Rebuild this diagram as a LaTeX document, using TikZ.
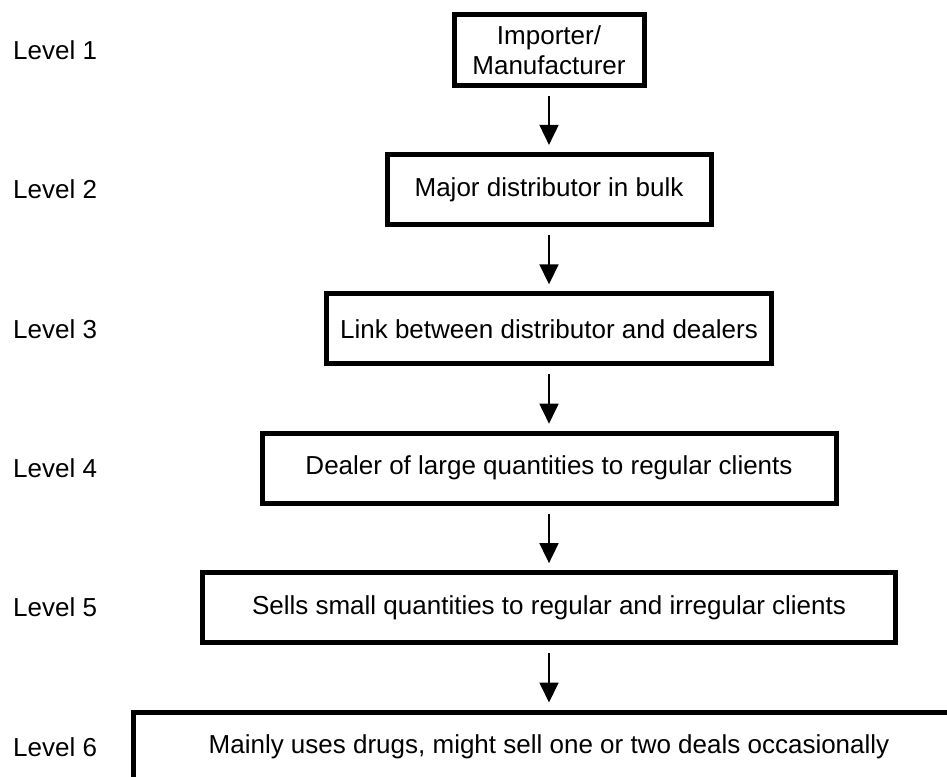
\documentclass[tikz,border=0pt]{standalone}
\usepackage{fontspec}
\setmainfont{Liberation Sans}
\usetikzlibrary{arrows.meta,positioning}
\tikzset{
  levelbox/.style={draw=black,line width=5pt,align=center,inner sep=2pt,
    minimum height=70pt,font=\fontsize{26}{30}\selectfont},
  levellabel/.style={anchor=west,inner sep=0pt,font=\fontsize{26}{30}\selectfont},
  flowarrow/.style={-{Triangle[length=20pt,width=19pt]},line width=1.8pt,
    shorten <=8pt,shorten >=7pt}
}

\begin{document}
\begin{tikzpicture}[x=1pt,y=1pt,node distance=64.4pt]
  \clip (0,0) rectangle (947,-776);
  \coordinate (lx) at (13,0);
  % chain of distribution levels
  \node[levelbox,minimum width=190pt] (importer) at (549,-50) {Importer/\\Manufacturer};
  \node[levelbox,below=of importer,minimum width=324pt] (major) {Major distributor in bulk};
  \node[levelbox,below=of major,minimum width=445pt] (link) {Link between distributor and dealers};
  \node[levelbox,below=of link,minimum width=574pt] (dealer) {Dealer of large quantities to regular clients};
  \node[levelbox,below=of dealer,minimum width=693pt] (seller) {Sells small quantities to regular and irregular clients};
  \node[levelbox,below=of seller,minimum width=831pt] (user) {Mainly uses drugs, might sell one or two deals occasionally};
  \draw[flowarrow] (importer) -- (major);
  \draw[flowarrow] (major) -- (link);
  \draw[flowarrow] (link) -- (dealer);
  \draw[flowarrow] (dealer) -- (seller);
  \draw[flowarrow] (seller) -- (user);
  % level labels
  \node[levellabel] (lv1) at (importer -| lx) {Level 1};
  \node[levellabel] (lv2) at (major -| lx) {Level 2};
  \node[levellabel] (lv3) at (link -| lx) {Level 3};
  \node[levellabel] (lv4) at (dealer -| lx) {Level 4};
  \node[levellabel] (lv5) at (seller -| lx) {Level 5};
  \node[levellabel] (lv6) at (user -| lx) {Level 6};
\end{tikzpicture}
\end{document}
